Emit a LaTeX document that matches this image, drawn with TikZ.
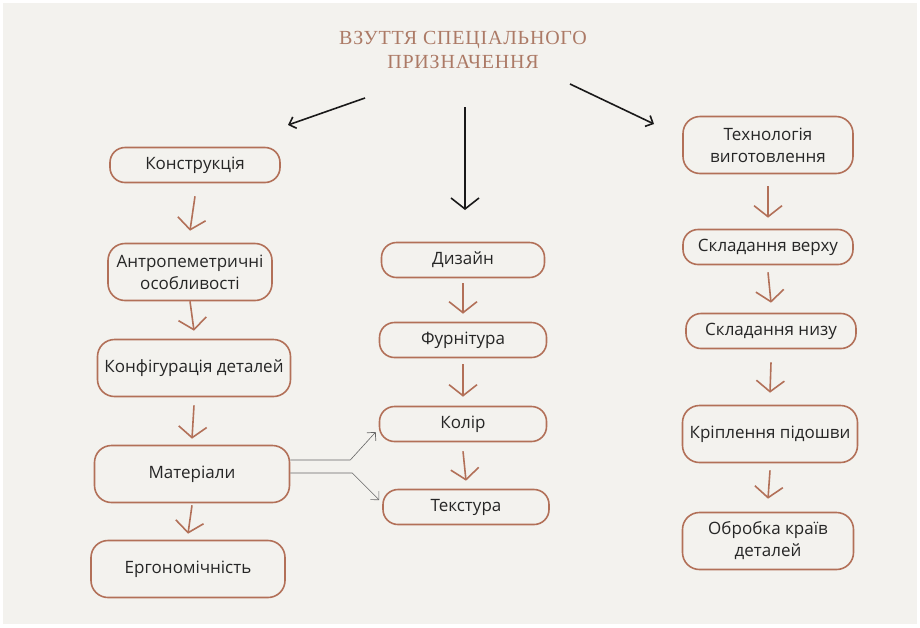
\documentclass[tikz,border=0pt]{standalone}
\usepackage{fontspec}
\setmainfont{Open Sans}
\newfontfamily\titlefont[LetterSpace=4]{Liberation Serif}
\usetikzlibrary{arrows.meta, positioning}
\definecolor{paper}{RGB}{243, 242, 238}
\definecolor{clay}{RGB}{178, 112, 88}
\definecolor{titlebrown}{RGB}{172, 122, 102}
\definecolor{ink}{RGB}{38, 38, 38}

\begin{document}
\begin{tikzpicture}[
  x=1pt, y=-1pt,
  item/.style={draw=clay, line width=1.6pt, rounded corners=15pt, fill=paper,
               font=\fontsize{17}{22}\selectfont, text=ink, align=center,
               minimum height=35pt, inner sep=2pt},
  tall/.style={minimum height=57pt, rounded corners=17pt},
  flow/.style={draw=clay, line width=1.6pt,
               -{Straight Barb[length=11pt, width=28pt, line width=1.6pt]}},
  branch/.style={draw=black!90, line width=1.6pt,
                 -{Straight Barb[length=6pt, width=12pt, line width=1.6pt]}},
  side/.style={draw=black!60, line width=0.6pt,
               -{Straight Barb[length=6pt, width=12pt, line width=0.7pt]}},
]
% background
\fill[white] (0,0) rectangle (920,627);
\fill[paper] (3,3) rectangle (917,624);

% title
\node[font=\titlefont\fontsize{20}{24}\selectfont, text=titlebrown, align=center]
  (title) at (463,50) {ВЗУТТЯ СПЕЦІАЛЬНОГО\\ПРИЗНАЧЕННЯ};

% left column
\node[item, minimum width=170pt] (constr) at (195,165) {Конструкція};
\node[item, tall, minimum width=164pt] (anthro) at (190,272) {Антропеметричні\\особливості};
\node[item, tall, minimum width=193pt] (config) at (194,368) {Конфігурація деталей};
\node[item, tall, minimum width=195pt] (mater) at (192,474) {Матеріали};
\node[item, tall, minimum width=194pt] (ergo) at (188,569) {Ергономічність};

% middle column
\node[item, minimum width=163pt] (design) at (463,260) {Дизайн};
\node[item, minimum width=167pt] (furn) at (463,340) {Фурнітура};
\node[item, minimum width=167pt] (colour) at (463,424) {Колір};
\node[item, minimum width=166pt] (texture) at (466,507) {Текстура};

% right column
\node[item, tall, minimum width=170pt] (tech) at (768,145) {Технологія\\виготовлення};
\node[item, minimum width=170pt] (upper) at (768,247) {Складання верху};
\node[item, minimum width=170pt] (lower) at (771,331) {Складання низу};
\node[item, tall, minimum width=175pt] (sole) at (770,434) {Кріплення підошви};
\node[item, tall, minimum width=171pt] (edge) at (768,541) {Обробка країв\\деталей};

% branches from the title
\coordinate (tl) at (365,98);
\coordinate (tlend) at (288,125);
\coordinate (tm) at (465,107);
\coordinate (tmend) at (465,210);
\coordinate (tr) at (570,84);
\coordinate (trend) at (654,124);
\draw[branch] (tl) -- (tlend);
\draw[branch, -{Straight Barb[length=11pt, width=28pt, line width=1.6pt]}] (tm) -- (tmend);
\draw[branch] (tr) -- (trend);

% flow arrows
\draw[flow] ([yshift=-13pt]constr.south) -- ([yshift=12pt]anthro.north);
\draw[flow] (anthro.south) -- ([yshift=8pt]config.north);
\draw[flow] ([yshift=-8pt]config.south) -- ([yshift=6pt]mater.north);
\draw[flow] ([yshift=-2pt]mater.south) -- ([yshift=6pt]ergo.north);

\draw[flow] ([yshift=-5pt]design.south) -- ([yshift=8pt]furn.north);
\draw[flow] ([yshift=-6pt]furn.south) -- ([yshift=9pt]colour.north);
\draw[flow] ([yshift=-9pt]colour.south) -- ([yshift=8pt]texture.north);

\draw[flow] ([yshift=-12pt]tech.south) -- ([yshift=11pt]upper.north);
\draw[flow] ([yshift=-7pt]upper.south) -- ([yshift=10pt]lower.north);
\draw[flow] ([yshift=-13pt]lower.south) -- ([yshift=12pt]sole.north);
\draw[flow] ([yshift=-7pt]sole.south) -- ([yshift=13pt]edge.north);

% materials to colour and texture
\draw[side] ([yshift=14pt]mater.east) -- ++(60,0) -- ([xshift=-3pt,yshift=-8pt]colour.west);
\draw[side] ([yshift=1pt]mater.east) -- ++(62,0) -- ([xshift=-3pt,yshift=7pt]texture.west);
\end{tikzpicture}
\end{document}
